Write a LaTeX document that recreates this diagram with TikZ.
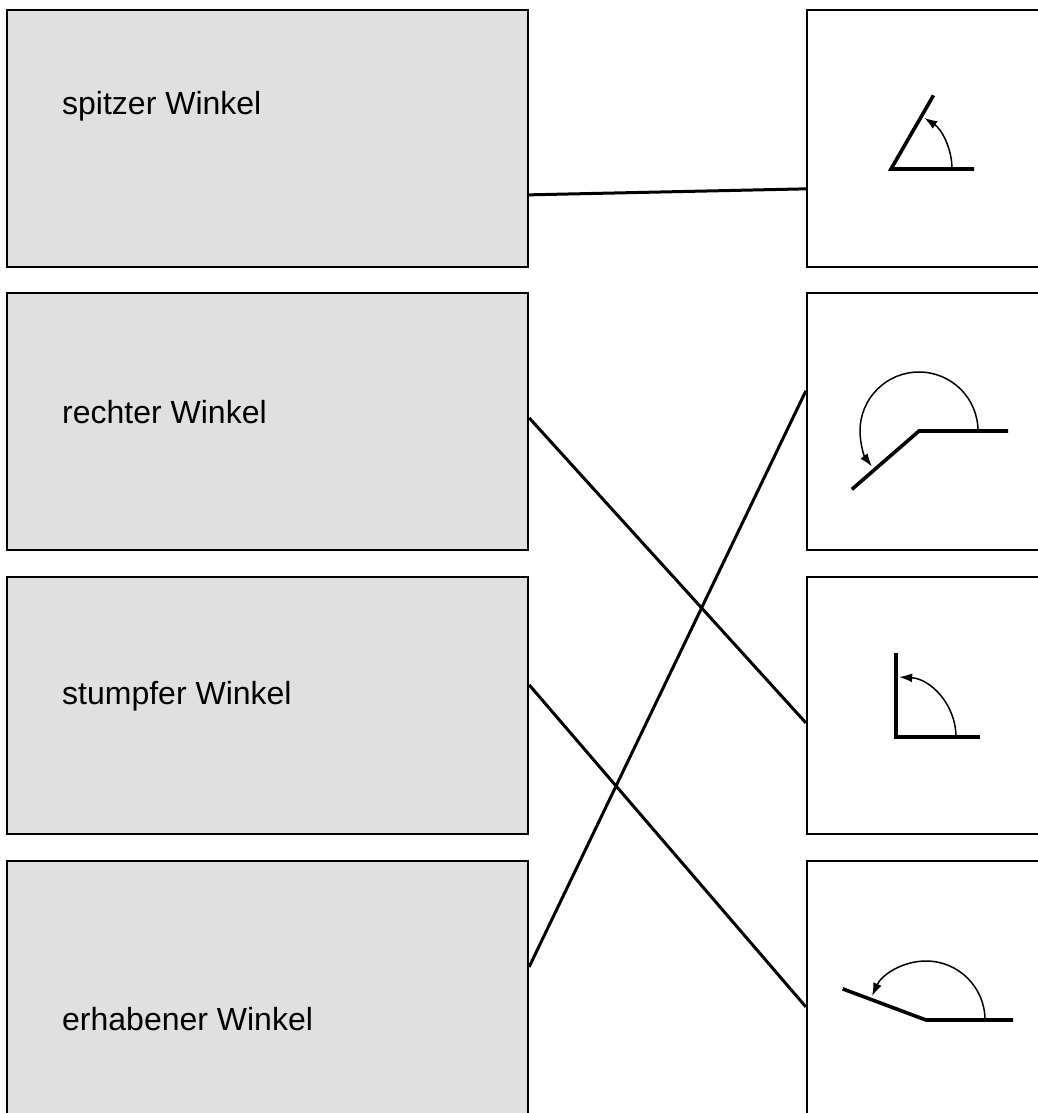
\documentclass[tikz,border=0pt]{standalone}
\usepackage{fontspec}
\setmainfont{Liberation Sans}
\usetikzlibrary{arrows.meta}
\definecolor{boxgray}{RGB}{224,224,224}

\begin{document}
\begin{tikzpicture}[x=1pt, y=-1pt]
\tikzstyle{namebox}=[draw, fill=boxgray, line width=2.3pt, minimum width=521pt, minimum height=257pt, inner sep=0pt]
\tikzstyle{picbox}=[draw, line width=2.3pt, minimum width=262pt, minimum height=257pt, inner sep=0pt]
\tikzstyle{termtext}=[anchor=base west, inner sep=0pt, font=\fontsize{32}{38}\selectfont]
\tikzstyle{leg}=[line width=3.6pt]
\tikzstyle{sweep}=[line width=1.5pt, -{Latex[length=13pt,width=9pt]}]
\tikzstyle{link}=[line width=3pt]

\useasboundingbox (0,0) rectangle (1038,1113);
\clip (0,0) rectangle (1038,1113);

\draw (267.5,138.5) node[namebox] (w1) {};
\draw (267.5,421.5) node[namebox] (w2) {};
\draw (267.5,705.5) node[namebox] (w3) {};
\draw (267.5,989.5) node[namebox] (w4) {};

\draw (938,138.5) node[picbox] (p1) {};
\draw (938,421.5) node[picbox] (p2) {};
\draw (938,705.5) node[picbox] (p3) {};
\draw (938,989.5) node[picbox] (p4) {};

\draw (62,114) node[termtext] (l1) {spitzer Winkel};
\draw (62,423) node[termtext] (l2) {rechter Winkel};
\draw (62,704) node[termtext] (l3) {stumpfer Winkel};
\draw (62,1030) node[termtext] (l4) {erhabener Winkel};

\begin{scope}[shift={(891,169)}, yscale=-1]
\draw[leg] (83,0) -- (0,0) -- (60:85);
\draw[sweep] (61,0) arc[start angle=0, end angle=57, radius=61];
\end{scope}
\begin{scope}[shift={(919,431)}, yscale=-1]
\draw[leg] (89,0) -- (0,0) -- (221:89);
\draw[sweep] (59,0) arc[start angle=0, end angle=217, radius=59];
\end{scope}
\begin{scope}[shift={(896,737)}, yscale=-1]
\draw[leg] (84,0) -- (0,0) -- (0,84);
\draw[sweep] (60,0) arc[start angle=0, end angle=87, radius=60];
\end{scope}
\begin{scope}[shift={(926,1020)}, yscale=-1]
\draw[leg] (87,0) -- (0,0) -- (159.5:89);
\draw[sweep] (59,0) arc[start angle=0, end angle=156, radius=59];
\end{scope}

\draw[link] ([yshift=-186pt]w1.north east) edge ([yshift=-180pt]p1.north west);
\draw[link] ([yshift=-126pt]w2.north east) edge ([yshift=-147pt]p3.north west);
\draw[link] ([yshift=-109pt]w3.north east) edge ([yshift=-147pt]p4.north west);
\draw[link] ([yshift=-107pt]w4.north east) edge ([yshift=-99pt]p2.north west);
\end{tikzpicture}
\end{document}
